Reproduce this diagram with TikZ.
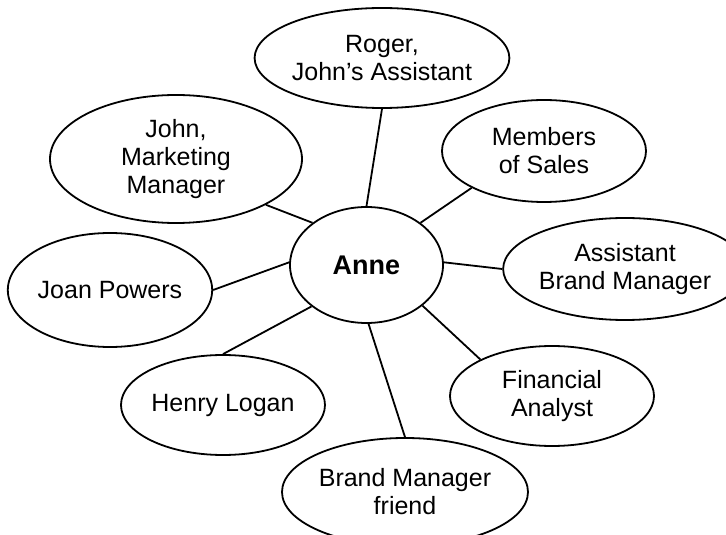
\documentclass[tikz,border=0pt]{standalone}
\usepackage{fontspec}
\setmainfont{Liberation Sans}
\usetikzlibrary{shapes}
\usetikzlibrary{positioning}

\begin{document}
\begin{tikzpicture}[x=1pt, y=1pt, line width=1.8pt,
        person/.style={ellipse, draw, inner sep=0pt, align=center, font=\fontsize{25}{28}\selectfont}]
        \clip (-366.5,-270) rectangle (359.5,265);
        \node (anne) [person, minimum width=153, minimum height=116, font=\fontsize{27}{30}\selectfont\bfseries] at (0,0) {Anne};
        \node (roger) [person, minimum width=250, minimum height=100] at (15.5,207) {Roger,\\John’s Assistant};
        \node (john) [person, minimum width=252, minimum height=128] at (-190.5,106) {John,\\Marketing\\Manager};
        \node (sales) [person, minimum width=204, minimum height=102] at (177.5,114) {Members\\of Sales};
        \node (joan) [person, minimum width=196, minimum height=114] at (-256.5,-25) {Joan Powers};
        \node (abm) [person, minimum width=236, minimum height=102] at (258.5,-4) {Assistant\\Brand Manager};
        \node (henry) [person, minimum width=204, minimum height=100] at (-143.5,-140) {Henry Logan};
        \node (fa) [person, minimum width=204, minimum height=100] at (185.5,-131) {Financial\\Analyst};
        \node (bmf) [person, minimum width=246, minimum height=108] at (38.5,-227) {Brand Manager\\friend};
        \draw (roger.-90) -- (anne.90);
        \draw (john.-27) -- (anne.142);
        \draw (sales.-153) -- (anne.38);
        \draw (joan.0) -- (anne.178);
        \draw (abm.180) -- (anne.2);
        \draw (henry.90) -- (anne.-143);
        \draw (fa.153) -- (anne.-36);
        \draw (bmf.90) -- (anne.-88);
    \end{tikzpicture}
\end{document}
